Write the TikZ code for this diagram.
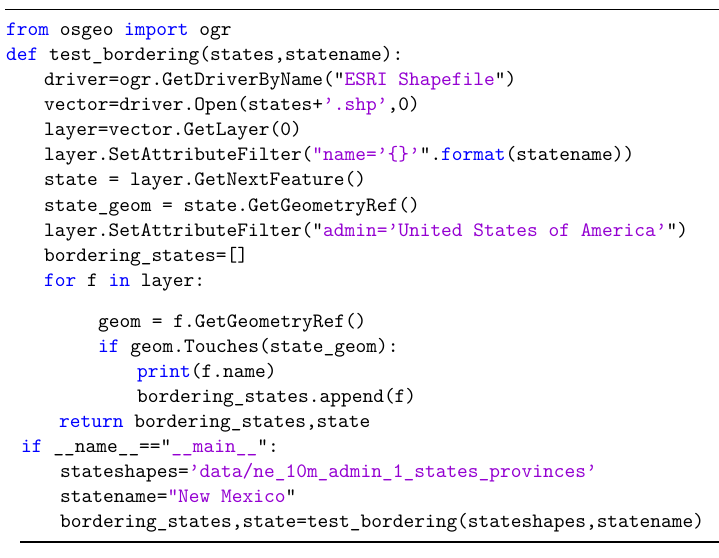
\documentclass[tikz,border=0pt]{standalone}
\usepackage{fontspec}
\setmonofont{lmmono10-regular}[Extension=.otf]
\usepackage{tikz}
\usepackage{color}
\definecolor{pykwblue}{rgb}{0,0,1}
\definecolor{pystrpurple}{rgb}{0.58,0,0.82}
\newcommand{\pykw}[1]{\textcolor{pykwblue}{#1}}
\newcommand{\pystr}[1]{\textcolor{pystrpurple}{#1}}

\begin{document}
\begin{tikzpicture}[x=1pt,y=-1pt,
  code/.style={anchor=base west,inner sep=0pt,font=\ttfamily\fontsize{20.44}{24}\selectfont},
  rule/.style={line width=1.2pt}]
\useasboundingbox (0,0) rectangle (719,557);
\coordinate (topl) at (5,9.5);
\coordinate (topr) at (719,9.5);
\coordinate (botl) at (20,542);
\coordinate (botr) at (719,542);
\draw[rule] (topl) -- (topr);
\draw[rule] (botl) -- (botr);
\node[code] (l1) at (6,35) {\pykw{from} osgeo \pykw{import} ogr};
\node[code] (l2) at (6,60) {\pykw{def} test\_bordering(states,statename):};
\node[code] (l3) at (44,85) {driver=ogr.GetDriverByName("\pystr{ESRI Shapefile}")};
\node[code] (l4) at (44,110) {vector=driver.Open(states+\pystr{’.shp’},0)};
\node[code] (l5) at (44,135) {layer=vector.GetLayer(0)};
\node[code] (l6) at (44,160) {layer.SetAttributeFilter(\pystr{"name=’\{\}’}".\pykw{format}(statename))};
\node[code] (l7) at (44,185) {state = layer.GetNextFeature()};
\node[code] (l8) at (44,211) {state\_geom = state.GetGeometryRef()};
\node[code] (l9) at (44,236) {layer.SetAttributeFilter("\pystr{admin=’United States of America’}")};
\node[code] (l10) at (44,261) {bordering\_states=[]};
\node[code] (l11) at (44,286) {\pykw{for} f \pykw{in} layer:};
\node[code] (l12) at (98,327) {geom = f.GetGeometryRef()};
\node[code] (l13) at (98,352) {\pykw{if} geom.Touches(state\_geom):};
\node[code] (l14) at (137,377) {\pykw{print}(f.name)};
\node[code] (l15) at (137,402) {bordering\_states.append(f)};
\node[code] (l16) at (59,427) {\pykw{return} bordering\_states,state};
\node[code] (l17) at (21,452) {\pykw{if} \_\_name\_\_=="\pystr{\_\_main\_\_}":};
\node[code] (l18) at (60,477) {stateshapes=\pystr{’data/ne\_10m\_admin\_1\_states\_provinces’}};
\node[code] (l19) at (60,502) {statename=\pystr{"New Mexico}"};
\node[code] (l20) at (60,527) {bordering\_states,state=test\_bordering(stateshapes,statename)};
\end{tikzpicture}
\end{document}
